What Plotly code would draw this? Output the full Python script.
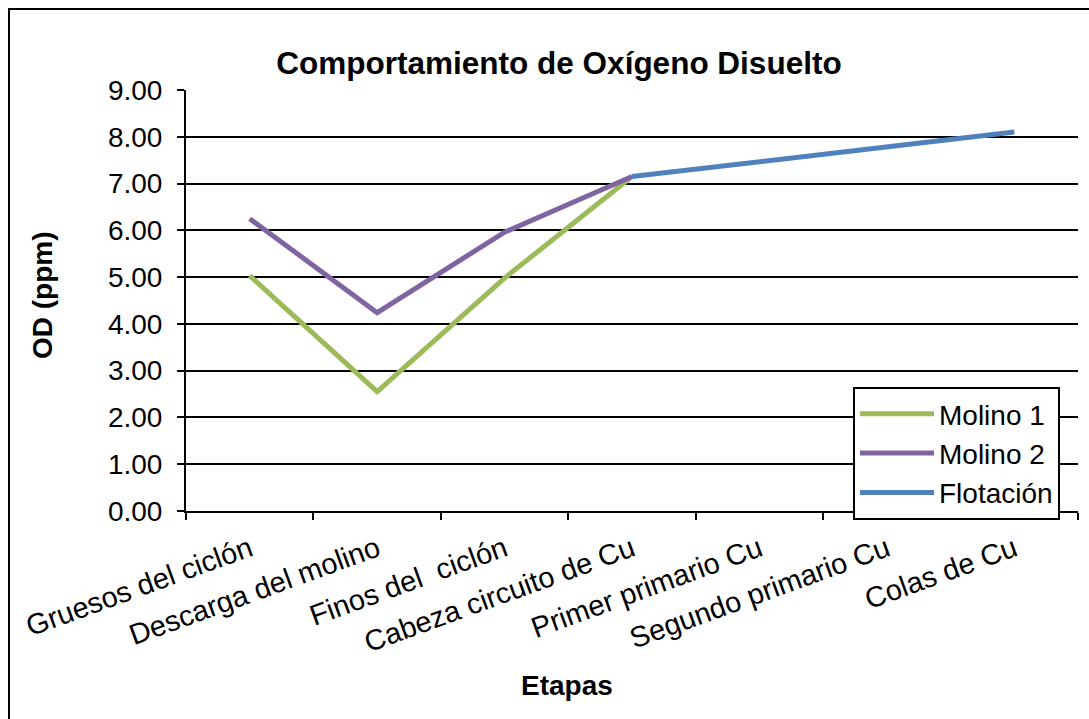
import plotly.graph_objects as go

# Etapas del proceso (eje X)
etapas = [
    "Gruesos del ciclón",
    "Descarga del molino",
    "Finos del  ciclón",
    "Cabeza circuito de Cu",
    "Primer primario Cu",
    "Segundo primario Cu",
    "Colas de Cu",
]

# Oxígeno disuelto (ppm) por serie
molino_1 = [5.03, 2.55, 4.98, 7.15, None, None, None]
molino_2 = [6.25, 4.24, 5.96, 7.15, None, None, None]
flotacion = [None, None, None, 7.15, 7.47, 7.78, 8.10]

series = [
    ("Molino 1", molino_1, "#9BBB59"),
    ("Molino 2", molino_2, "#8064A2"),
    ("Flotación", flotacion, "#4F81BD"),
]

FONT = "Liberation Sans, Arial, sans-serif"
FS = 28

fig = go.Figure()
for name, vals, color in series:
    fig.add_trace(go.Scatter(
        x=etapas, y=vals, name=name, mode="lines",
        line=dict(color=color, width=5),
        connectgaps=False,
    ))

W, H = 1089, 719
L, R, T, B = 186, 11, 90, 208
pw, ph = W - L - R, H - T - B


def px_x(x):
    return (x - L) / pw


def px_y(y):
    return (H - B - y) / ph


fig.update_layout(
    width=W, height=H,
    margin=dict(l=L, r=R, t=T, b=B, pad=0, autoexpand=False),
    paper_bgcolor="white", plot_bgcolor="white",
    font=dict(family=FONT, size=FS, color="black"),
    title=dict(
        text="<b>Comportamiento de Oxígeno Disuelto</b>",
        font=dict(family=FONT, size=31.5, color="black"),
        xref="container", yref="container",
        x=559 / W, y=1 - 63 / H, xanchor="center", yanchor="middle",
    ),
    xaxis=dict(
        type="category", range=[-0.5, len(etapas) - 0.5],
        automargin=False,
        tickson="boundaries",
        ticks="outside", ticklen=7, tickwidth=2, tickcolor="black",
        showline=True, linecolor="black", linewidth=2,
        showgrid=False, zeroline=False,
        tickangle=-20,
        ticklabelstandoff=8,
        tickfont=dict(family=FONT, size=29, color="black"),
    ),
    yaxis=dict(
        range=[0, 9], dtick=1, tickformat=".2f",
        automargin=False,
        ticks="outside", ticklen=7, tickwidth=2, tickcolor="black",
        showline=True, linecolor="black", linewidth=2,
        showgrid=True, gridcolor="black", gridwidth=2,
        zeroline=False,
        ticklabelstandoff=9,
        tickfont=dict(family=FONT, size=FS, color="black"),
    ),
    legend=dict(
        x=px_x(853), y=px_y(387), xanchor="left", yanchor="top",
        bgcolor="white", bordercolor="black", borderwidth=2,
        font=dict(family=FONT, size=FS, color="black"),
        itemwidth=74,
        tracegroupgap=0,
    ),
    showlegend=True,
)

# Títulos de los ejes
fig.add_annotation(
    text="<b>OD (ppm)</b>", textangle=-90, showarrow=False,
    xref="paper", yref="paper", x=px_x(42), y=px_y(295),
    xanchor="center", yanchor="middle",
    font=dict(family=FONT, size=FS, color="black"),
)
fig.add_annotation(
    text="<b>Etapas</b>", showarrow=False,
    xref="paper", yref="paper", x=px_x(567), y=px_y(685),
    xanchor="center", yanchor="middle",
    font=dict(family=FONT, size=FS, color="black"),
)

# Marco del área del gráfico
fig.add_shape(
    type="rect", xref="paper", yref="paper",
    x0=px_x(9), y0=px_y(740), x1=px_x(1100), y1=px_y(9),
    line=dict(color="black", width=2), fillcolor="rgba(0,0,0,0)",
    layer="below",
)

fig.write_html("out.html")
